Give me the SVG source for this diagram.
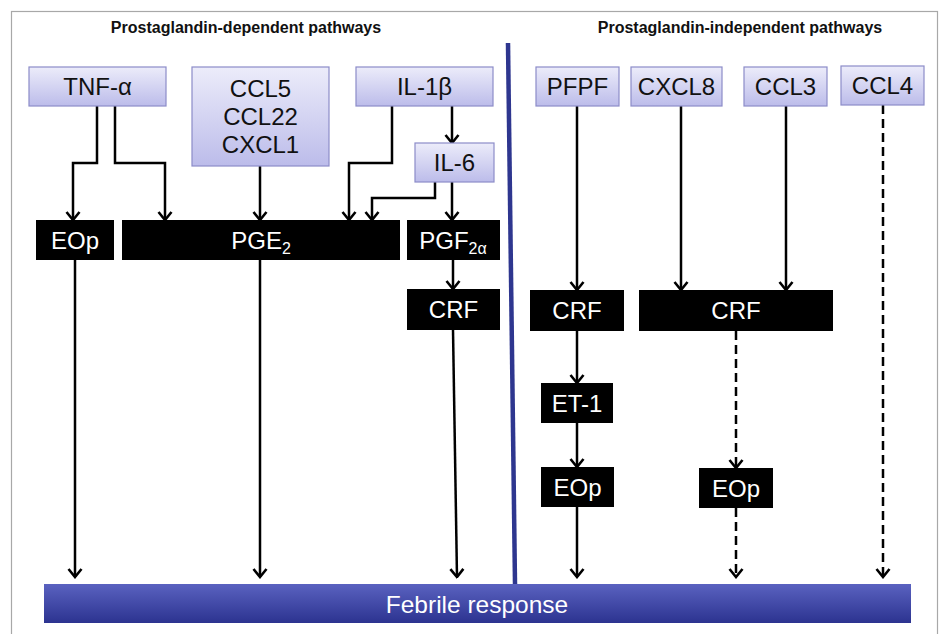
<svg xmlns="http://www.w3.org/2000/svg" width="939" height="634" viewBox="0 0 939 634">
<defs>
<linearGradient id="lav" x1="0" y1="0" x2="0" y2="1">
<stop offset="0" stop-color="#ececfa"/>
<stop offset="1" stop-color="#bcbcea"/>
</linearGradient>
<linearGradient id="blu" x1="0" y1="0" x2="0" y2="1">
<stop offset="0" stop-color="#5a62c0"/>
<stop offset="1" stop-color="#2c3390"/>
</linearGradient>
<marker id="ah" markerUnits="userSpaceOnUse" viewBox="0 0 11 16" refX="9.5" refY="8" markerWidth="11" markerHeight="16" orient="auto">
<path d="M1.5,1.5 L9.5,8 L1.5,14.5" fill="none" stroke="#000" stroke-width="2.6" stroke-dasharray="none"/>
</marker>
</defs>
<style>
.top rect{fill:url(#lav);stroke:#8c8cc8;stroke-width:1.2}
.top text{font-family:"Liberation Sans",Arial,sans-serif;font-size:24px;fill:#111;text-anchor:middle}
.blk rect{fill:#000}
.blk text{font-family:"Liberation Sans",Arial,sans-serif;font-size:24px;fill:#fff;text-anchor:middle}
.title{font-family:"Liberation Sans",Arial,sans-serif;font-size:16px;font-weight:bold;fill:#111;text-anchor:middle}
#connectors path{fill:none;stroke:#000;stroke-width:2.5;marker-end:url(#ah)}
#connectors path.d{stroke-dasharray:9 5}
</style>
<rect x="0" y="0" width="939" height="634" fill="#fff"/>
<rect x="11.5" y="11.5" width="926" height="640" fill="none" stroke="#a8a8a8" stroke-width="1.2"/>
<text class="title" x="246" y="33">Prostaglandin-dependent pathways</text>
<text class="title" x="740" y="33">Prostaglandin-independent pathways</text>
<line x1="508" y1="43" x2="515" y2="584" stroke="#2e368f" stroke-width="4.5"/>

<g id="connectors">
<path d="M97,106 V163 H73 V220"/>
<path d="M115,106 V163 H165 V220"/>
<path d="M260,166 V220"/>
<path d="M392,106 V163 H349 V220"/>
<path d="M452,106 V143"/>
<path d="M435,182 V198 H372 V220"/>
<path d="M452,182 V220"/>
<path d="M453,260 V289"/>
<path d="M75,260 V577"/>
<path d="M260,260 V577"/>
<path d="M453,330 L457,577"/>
<path d="M577,106 V290"/>
<path d="M681,106 V290"/>
<path d="M786,106 V290"/>
<path class="d" d="M883,105 V577"/>
<path d="M577,331 V383"/>
<path d="M577,423 V467"/>
<path d="M577,507 V577"/>
<path class="d" d="M736,331 V468"/>
<path class="d" d="M736,508 V577"/>
</g>

<g id="tnf" class="top"><rect x="29" y="67" width="137" height="39"/><text x="97.5" y="95">TNF-α</text></g>
<g id="ccl5" class="top"><rect x="192" y="67" width="137" height="99"/><text x="260.5" y="97">CCL5</text><text x="260.5" y="125">CCL22</text><text x="260.5" y="153">CXCL1</text></g>
<g id="il1b" class="top"><rect x="356" y="67" width="137" height="39"/><text x="424.5" y="95">IL-1β</text></g>
<g id="il6" class="top"><rect x="415" y="143" width="79" height="39"/><text x="454.5" y="171">IL-6</text></g>
<g id="pfpf" class="top"><rect x="536" y="67" width="83" height="39"/><text x="577.5" y="95">PFPF</text></g>
<g id="cxcl8" class="top"><rect x="631" y="67" width="91" height="39"/><text x="676.5" y="95">CXCL8</text></g>
<g id="ccl3" class="top"><rect x="744" y="67" width="83" height="39"/><text x="785.5" y="95">CCL3</text></g>
<g id="ccl4" class="top"><rect x="841" y="66" width="83" height="39"/><text x="882.5" y="94">CCL4</text></g>

<g id="eop1" class="blk"><rect x="36" y="220" width="78" height="40"/><text x="75" y="249">EOp</text></g>
<g id="pge2" class="blk"><rect x="122" y="220" width="278" height="40"/><text x="261" y="249">PGE<tspan font-size="16" dy="5">2</tspan></text></g>
<g id="pgf2a" class="blk"><rect x="407" y="220" width="93" height="40"/><text x="453" y="249">PGF<tspan font-size="16" dy="5">2α</tspan></text></g>
<g id="crf1" class="blk"><rect x="407" y="289" width="93" height="41"/><text x="453.5" y="318">CRF</text></g>
<g id="crf2" class="blk"><rect x="530" y="290" width="94" height="41"/><text x="577" y="319">CRF</text></g>
<g id="crf3" class="blk"><rect x="639" y="290" width="194" height="41"/><text x="736" y="319">CRF</text></g>
<g id="et1" class="blk"><rect x="541" y="383" width="72" height="40"/><text x="577" y="412">ET-1</text></g>
<g id="eop2" class="blk"><rect x="541" y="467" width="73" height="40"/><text x="577.5" y="496">EOp</text></g>
<g id="eop3" class="blk"><rect x="699" y="468" width="74" height="40"/><text x="736" y="497">EOp</text></g>

<g id="febrile"><rect x="44" y="584" width="867" height="39" fill="url(#blu)"/><text x="477" y="613" font-family="Liberation Sans, Arial, sans-serif" font-size="24.5" fill="#fff" text-anchor="middle">Febrile response</text></g>
</svg>
